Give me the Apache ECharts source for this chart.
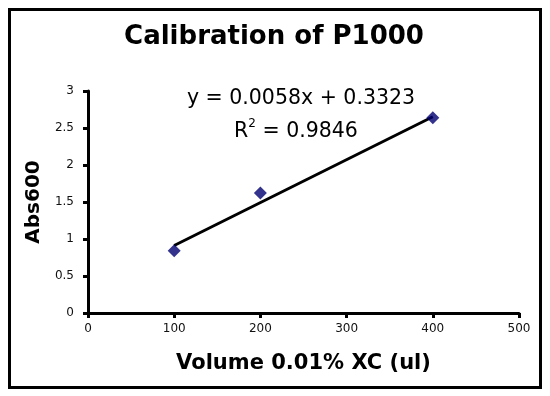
<!DOCTYPE html>
<html><head><meta charset="utf-8">
<script src="https://cdn.jsdelivr.net/npm/echarts@6/dist/echarts.min.js"></script>
<style>html,body{margin:0;padding:0;background:#fff}#c{width:550px;height:396px}</style>
</head><body><div id="c"></div>
<script>
const volumes = [100, 200, 400];
const absValues = [0.84, 1.62, 2.64];
const slope = 0.0058, intercept = 0.3323;
const trendX = [100, 400];
const xTicks = [0, 100, 200, 300, 400, 500];
const yTicks = [0, 0.5, 1, 1.5, 2, 2.5, 3];

const chart = echarts.init(document.getElementById('c'), null, {renderer: 'canvas'});
const font = '"DejaVu Sans", Verdana, sans-serif';
chart.setOption({
  animation: false,
  backgroundColor: '#fff',
  grid: {left: 88, right: 31, top: 91, bottom: 83},
  xAxis: {
    type: 'value', min: 0, max: 500, interval: 100,
    name: 'Volume 0.01% XC (ul)', nameLocation: 'middle', nameGap: 40,
    nameTextStyle: {fontFamily: font, fontWeight: 'bold', fontSize: 21, color: '#000'},
    axisLine: {lineStyle: {color: '#000', width: 3}},
    axisTick: {show: true, length: 5, lineStyle: {color: '#000', width: 3}},
    axisLabel: {fontFamily: font, fontSize: 12, color: '#111', margin: 10},
    splitLine: {show: false}
  },
  yAxis: {
    type: 'value', min: 0, max: 3, interval: 0.5,
    name: 'Abs600', nameLocation: 'middle', nameGap: 40,
    nameTextStyle: {fontFamily: font, fontWeight: 'bold', fontSize: 20, color: '#000'},
    axisLine: {show: true, lineStyle: {color: '#000', width: 3}},
    axisTick: {show: true, length: 5, lineStyle: {color: '#000', width: 3}},
    axisLabel: {fontFamily: font, fontSize: 12, color: '#111', margin: 14},
    splitLine: {show: false}
  },
  series: [
    {
      type: 'line', data: trendX.map(x => [x, slope * x + intercept]),
      symbol: 'none', lineStyle: {color: '#000', width: 3}, z: 2
    },
    {
      type: 'scatter', data: volumes.map((v, i) => [v, absValues[i]]),
      symbol: 'diamond', symbolSize: 13, itemStyle: {color: '#000070'}, z: 3
    }
  ],
  graphic: [
    {type: 'rect', shape: {x: 9.5, y: 9.5, width: 531, height: 378},
     style: {fill: 'none', stroke: '#000', lineWidth: 3}, z: 0, silent: true},
    {type: 'text', x: 274, y: 37,
     style: {text: 'Calibration of P1000', fontFamily: font, fontWeight: 'bold', fontSize: 26, fill: '#000',
             align: 'center', verticalAlign: 'middle'}},
    {type: 'text', x: 301, y: 99,
     style: {text: 'y = 0.0058x + 0.3323', fontFamily: font, fontSize: 20.5, fill: '#000',
             align: 'center', verticalAlign: 'middle'}},
    {type: 'text', x: 296, y: 130,
     style: {text: '{a|R}{s|2}{a| = 0.9846}', fontFamily: font, fontSize: 20.5, fill: '#000',
             align: 'center', verticalAlign: 'middle',
             rich: {a: {fontFamily: font, fontSize: 20.5, fill: '#000', verticalAlign: 'bottom'},
                    s: {fontFamily: font, fontSize: 12, fill: '#000', verticalAlign: 'top', padding: [0,0,12,0]}}}}
  ]
});
</script></body></html>
